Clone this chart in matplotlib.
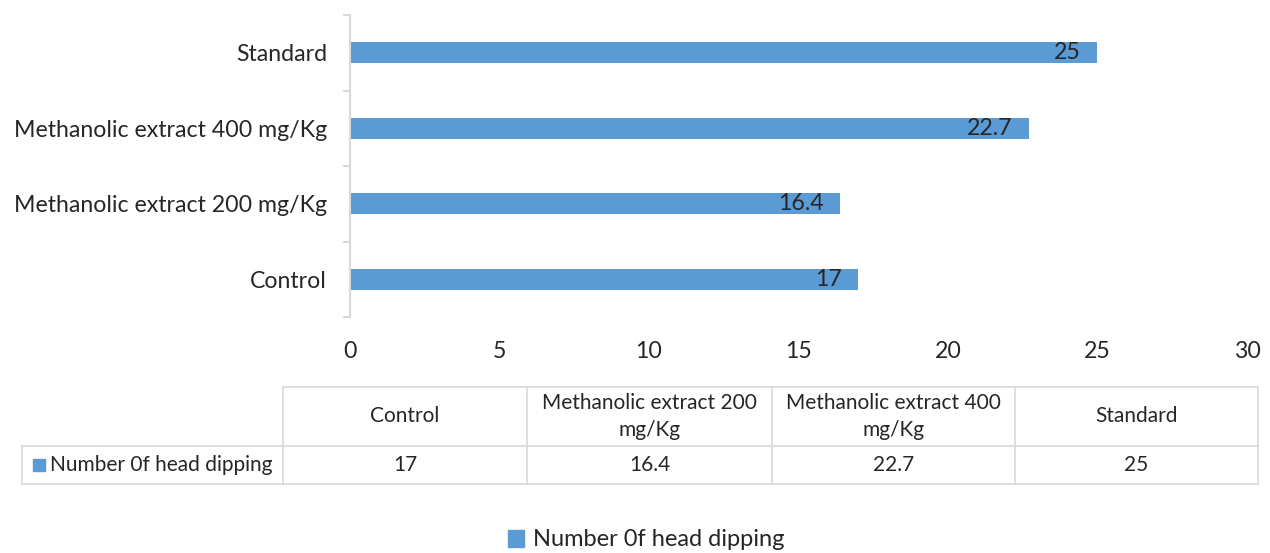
import matplotlib
matplotlib.use("Agg")
import matplotlib.pyplot as plt
from matplotlib.lines import Line2D
from matplotlib.patches import Rectangle

categories = ["Control", "Methanolic extract 200 mg/Kg", "Methanolic extract 400 mg/Kg", "Standard"]
table_headers = ["Control", "Methanolic extract 200\nmg/Kg", "Methanolic extract 400\nmg/Kg", "Standard"]
values = [17, 16.4, 22.7, 25]
value_labels = ["17", "16.4", "22.7", "25"]
series_name = "Number 0f head dipping"
x_ticks = [0, 5, 10, 15, 20, 25, 30]

BLUE = "#5b9bd5"
GRID = "#d9d9d9"
TXT = "#262626"
plt.rcParams['font.family'] = ['Lato', 'DejaVu Sans']

W, H = 1270, 553
fig = plt.figure(figsize=(W/100, H/100), dpi=100)

def fx(px): return px / W
def fy(py): return 1 - py / H

ax = fig.add_axes([fx(350), fy(317), fx(1247) - fx(350), fy(15) - fy(317)])
ypos = list(range(len(categories)))
bars = ax.barh(ypos, values, height=0.28, color=BLUE)
ax.set_xlim(0, 30)
ax.set_ylim(-0.5, len(categories) - 0.5)
ax.set_xticks(x_ticks)
ax.set_yticks(ypos)
ax.set_yticklabels(categories)
ax.set_yticks([i - 0.5 for i in range(len(categories) + 1)], minor=True)
for s in ["top", "right", "bottom"]:
    ax.spines[s].set_visible(False)
ax.spines["left"].set_color(GRID)
ax.spines["left"].set_linewidth(1.5)
ax.tick_params(axis="y", which="major", length=0, pad=16.5, labelsize=16.7, labelcolor=TXT)
ax.tick_params(axis="y", which="minor", length=5, width=1.5, color=GRID)
ax.tick_params(axis="x", length=0, pad=17, labelsize=16.7, labelcolor=TXT)

for b, lab in zip(bars, value_labels):
    ax.annotate(lab, xy=(b.get_width(), b.get_y() + b.get_height() / 2),
                xytext=(-12, 0), textcoords="offset points", ha="right", va="center",
                fontsize=16.7, color=TXT)

# data table
col_edges = [22, 283, 527, 772, 1015, 1258]
row_edges = [387, 446, 484]
lw = 1.2
def hline(y, x0, x1):
    fig.add_artist(Line2D([fx(x0), fx(x1)], [fy(y), fy(y)], color=GRID, lw=lw))
def vline(x, y0, y1):
    fig.add_artist(Line2D([fx(x), fx(x)], [fy(y0), fy(y1)], color=GRID, lw=lw))

hline(row_edges[0], col_edges[1], col_edges[-1])
hline(row_edges[1], col_edges[0], col_edges[-1])
hline(row_edges[2], col_edges[0], col_edges[-1])
vline(col_edges[0], row_edges[1], row_edges[2])
for x in col_edges[1:]:
    vline(x, row_edges[0], row_edges[2])

for i, (hdr, lab) in enumerate(zip(table_headers, value_labels)):
    cx = (col_edges[i + 1] + col_edges[i + 2]) / 2
    fig.text(fx(cx), fy((row_edges[0] + row_edges[1]) / 2), hdr, ha="center", va="center",
             fontsize=15, color=TXT, linespacing=1.45)
    fig.text(fx(cx), fy((row_edges[1] + row_edges[2]) / 2), lab, ha="center", va="center",
             fontsize=15, color=TXT)

fig.add_artist(Rectangle((fx(33), fy(471)), fx(12), fy(459) - fy(471), color=BLUE, transform=fig.transFigure))
fig.text(fx(50), fy(465), series_name, ha="left", va="center", fontsize=15, color=TXT)

# legend
leg = fig.legend([Rectangle((0, 0), 1, 1, color=BLUE)], [series_name], loc="center",
                 bbox_to_anchor=(fx(646), fy(540)), frameon=False, fontsize=17,
                 handlelength=0.7, handleheight=0.7, handletextpad=0.35)
for t in leg.get_texts():
    t.set_color(TXT)

fig.savefig("out.png", dpi=100)
